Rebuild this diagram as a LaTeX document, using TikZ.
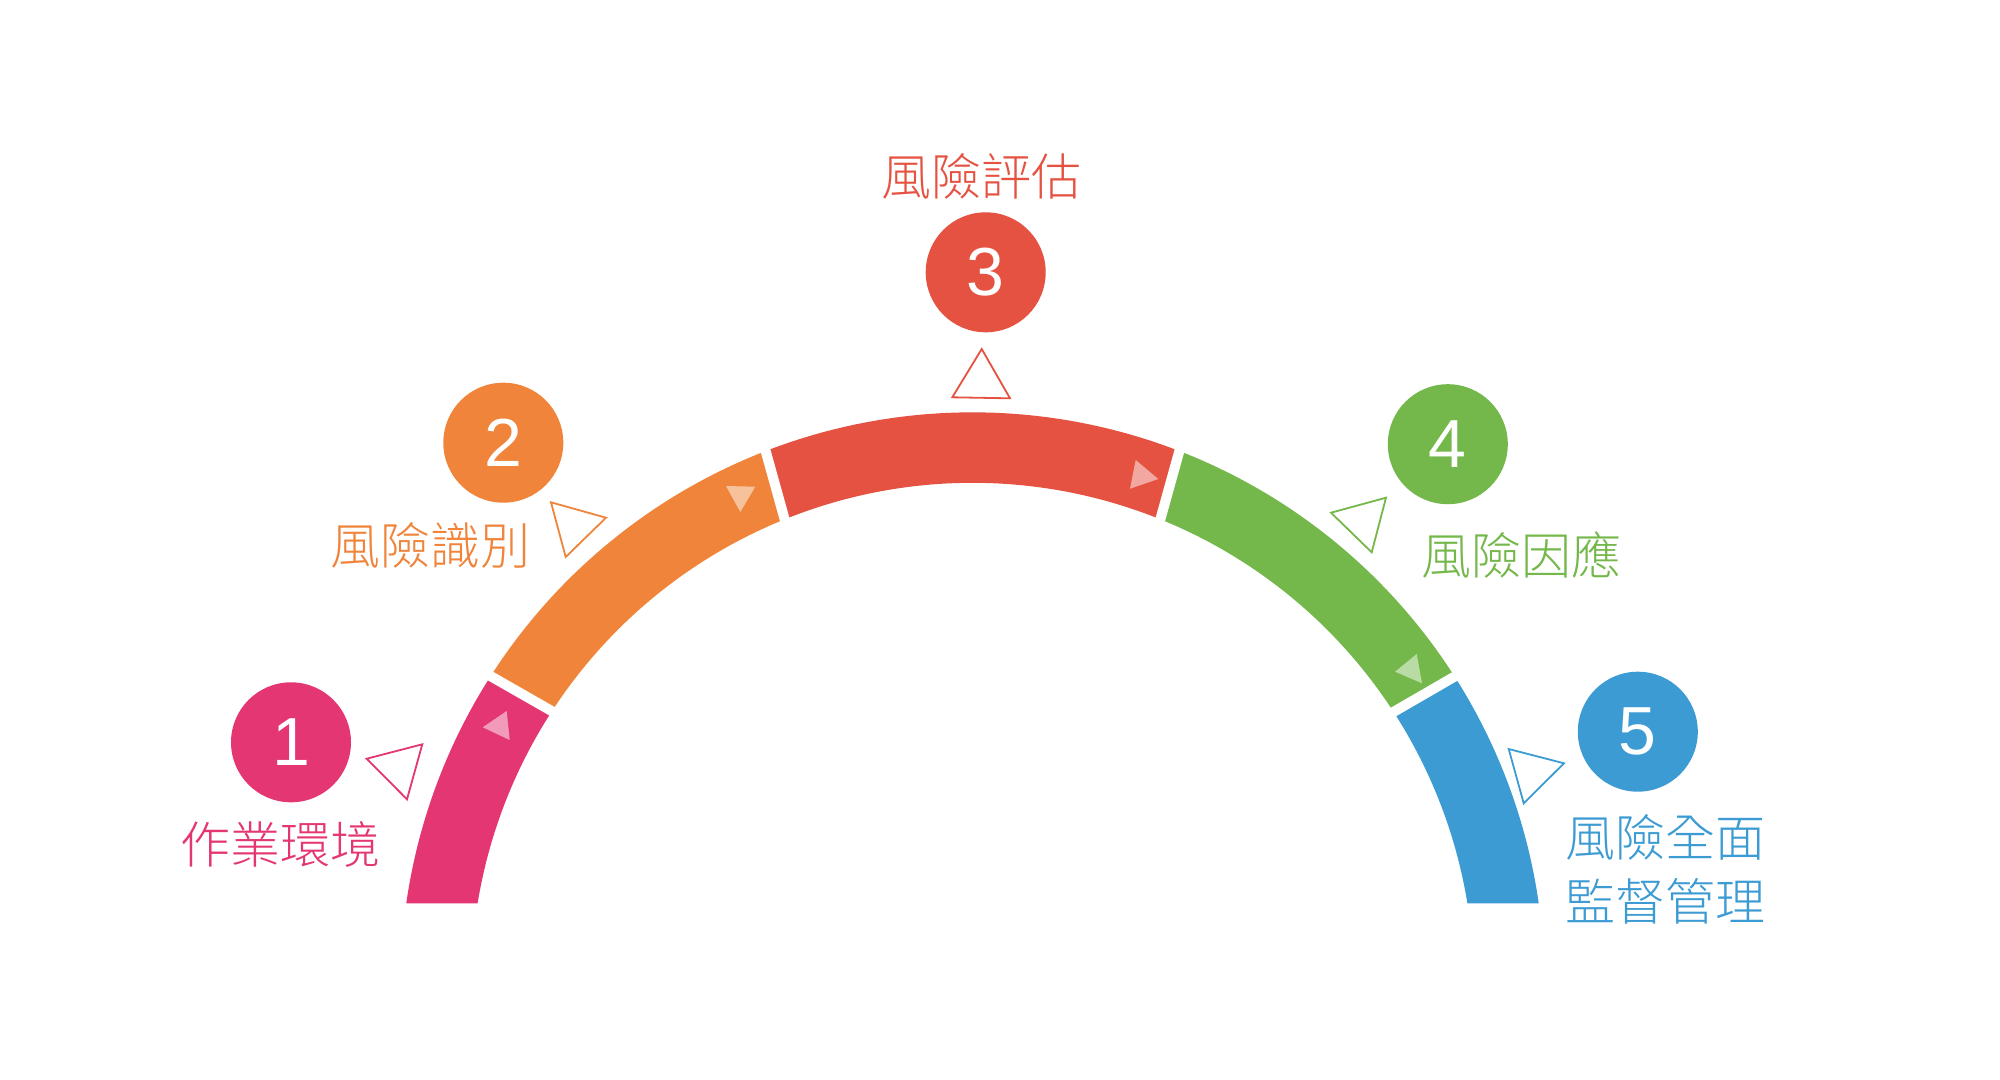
\documentclass[tikz,border=0pt]{standalone}
\usepackage{fontspec}
\setmainfont{Liberation Sans}
\IfFontExistsTF{Noto Sans CJK TC Light}
  {\newfontfamily\cjk{Noto Sans CJK TC Light}}
  {\IfFontExistsTF{Noto Sans CJK TC DemiLight}
    {\newfontfamily\cjk{Noto Sans CJK TC DemiLight}}
    {\newfontfamily\cjk{Noto Sans CJK TC}}}
\usetikzlibrary{calc}
\definecolor{cPink}{HTML}{E33673}
\definecolor{cOrange}{HTML}{EF843A}
\definecolor{cRed}{HTML}{E55241}
\definecolor{cGreen}{HTML}{74B74A}
\definecolor{cBlue}{HTML}{3D9BD3}
\begin{document}
\begin{tikzpicture}[x=1pt,y=-1pt,
  numcircle/.style={circle,minimum size=120pt,inner sep=0pt,text=white,font=\fontsize{68}{68}\selectfont},
  lbl/.style={inner sep=0pt,font=\cjk\fontsize{50}{64}\selectfont},
  outtri/.style={line width=1.8pt,line join=miter,fill=white},
  lighttri/.style={fill=white,fill opacity=0.5},
  gapline/.style={draw=white,line width=10pt,line cap=rect}]
\useasboundingbox (0,0) rectangle (2000,1079);
\coordinate (C) at (972.5,984.3);
\def\Ro{572}
\def\Ri{501.5}
% ring segments
\fill[cPink] ($(C)+(-171.86:\Ro)$) arc[start angle=-171.86,end angle=-147.4,radius=\Ro]
  -- ($(C)+(-147.0:\Ri)$) arc[start angle=-147.0,end angle=-170.71,radius=\Ri] -- cycle;
\fill[cOrange] ($(C)+(-147.4:\Ro)$) arc[start angle=-147.4,end angle=-111.2,radius=\Ro]
  -- ($(C)+(-112.0:\Ri)$) arc[start angle=-112.0,end angle=-147.0,radius=\Ri] -- cycle;
\fill[cRed] ($(C)+(-111.2:\Ro)$) arc[start angle=-111.2,end angle=-68.8,radius=\Ro]
  -- ($(C)+(-68.0:\Ri)$) arc[start angle=-68.0,end angle=-112.0,radius=\Ri] -- cycle;
\fill[cGreen] ($(C)+(-68.8:\Ro)$) arc[start angle=-68.8,end angle=-32.55,radius=\Ro]
  -- ($(C)+(-32.9:\Ri)$) arc[start angle=-32.9,end angle=-68.0,radius=\Ri] -- cycle;
\fill[cBlue] ($(C)+(-32.55:\Ro)$) arc[start angle=-32.55,end angle=-8.14,radius=\Ro]
  -- ($(C)+(-9.29:\Ri)$) arc[start angle=-9.29,end angle=-32.9,radius=\Ri] -- cycle;
% gaps
\draw[gapline] ($(C)+(-147.4:\Ro)$) -- ($(C)+(-147.0:\Ri)$);
\draw[gapline] ($(C)+(-111.2:\Ro)$) -- ($(C)+(-112.0:\Ri)$);
\draw[gapline] ($(C)+(-68.8:\Ro)$) -- ($(C)+(-68.0:\Ri)$);
\draw[gapline] ($(C)+(-32.55:\Ro)$) -- ($(C)+(-32.9:\Ri)$);
% light direction triangles
\fill[lighttri] (482.7,727.3) -- (506.7,711) -- (509.7,740) -- cycle;
\fill[lighttri] (726,486) -- (755.3,486.7) -- (740.3,512) -- cycle;
\fill[lighttri] (1135.7,460) -- (1158.3,479) -- (1130,488.7) -- cycle;
\fill[lighttri] (1416.7,654) -- (1422,683.3) -- (1395,671.7) -- cycle;
% outline triangles
\draw[outtri,draw=cPink] (366.7,758.7) -- (422.3,744.3) -- (407,799.3) -- cycle;
\draw[outtri,draw=cOrange] (551,502.3) -- (606,517.7) -- (565.7,557) -- cycle;
\draw[outtri,draw=cRed] (981.7,349) -- (1010,398.3) -- (952.3,397.3) -- cycle;
\draw[outtri,draw=cGreen] (1331,512.7) -- (1386,497.7) -- (1371.7,552.3) -- cycle;
\draw[outtri,draw=cBlue] (1508.7,749) -- (1564,763.3) -- (1523.7,803.3) -- cycle;
% number circles
\node[numcircle,fill=cPink] (n1) at (291,742.3) {1};
\node[numcircle,fill=cOrange] (n2) at (503.3,442.7) {2};
\node[numcircle,fill=cRed] (n3) at (985.7,272.3) {3};
\node[numcircle,fill=cGreen] (n4) at (1447.8,444.2) {4};
\node[numcircle,fill=cBlue] (n5) at (1637.8,731.7) {5};
% labels
\node[lbl,text=cPink] (t1) at (280,844) {作業環境};
\node[lbl,text=cOrange] (t2) at (430,545) {風險識別};
\node[lbl,text=cRed] (t3) at (981.7,176) {風險評估};
\node[lbl,text=cGreen] (t4) at (1521,555) {風險因應};
\node[lbl,text=cBlue,align=left] (t5) at (1665.5,869.7) {風險全面\\監督管理};
\end{tikzpicture}
\end{document}
